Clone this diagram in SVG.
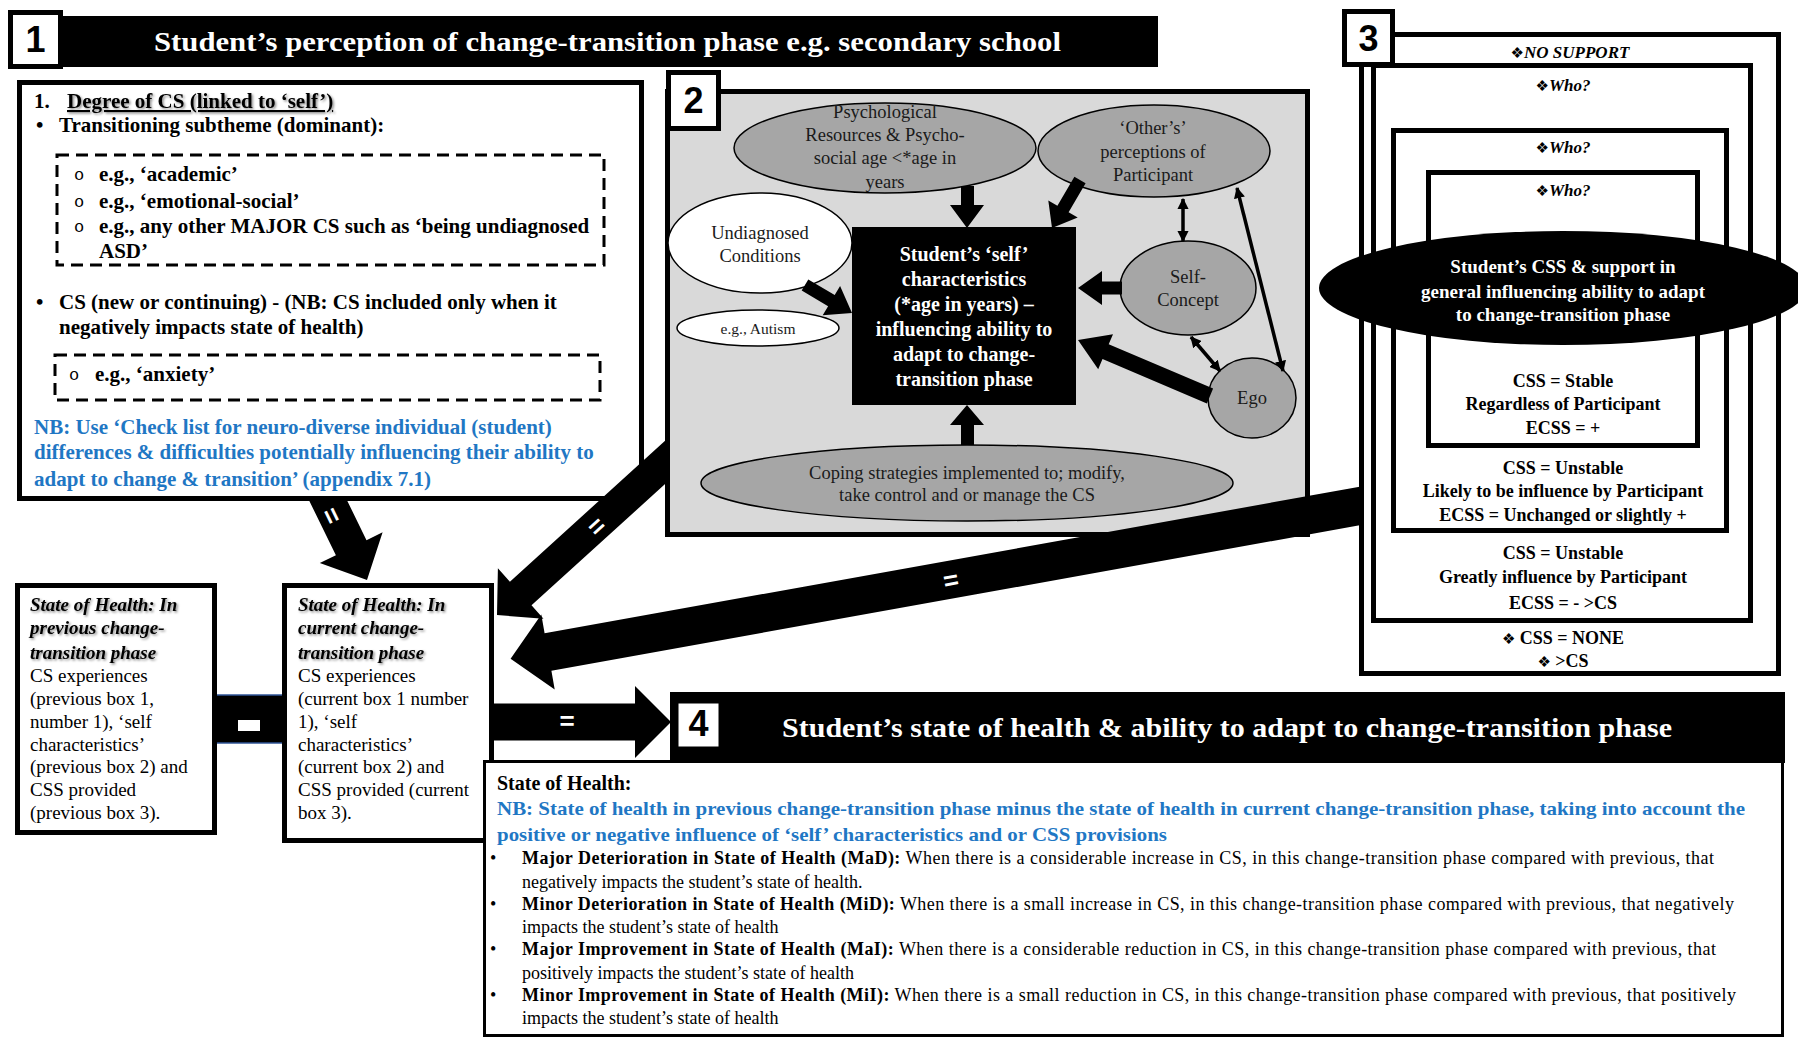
<svg xmlns="http://www.w3.org/2000/svg" width="1798" height="1038" viewBox="0 0 1798 1038">
<style>
.sf{font-family:"Liberation Serif","Times New Roman",serif}
.b{font-weight:bold}
.i{font-style:italic}
.w{fill:#fff}
.k{fill:#000}
.blue{fill:#1f77c4}
.box{fill:#fff;stroke:#000;stroke-width:5}
.frame{fill:none;stroke:#000;stroke-width:5}
.dash{fill:none;stroke:#000;stroke-width:3;stroke-dasharray:12 7}
.ell{stroke:#000;stroke-width:1.5}
.gray{fill:#a6a6a6}
.c{text-anchor:middle}
.lbl{font-family:"Liberation Sans",Arial,sans-serif;font-weight:bold;font-size:36px;text-anchor:middle;fill:#000}
.arr{fill:#000}
.eq{font-family:"Liberation Sans",Arial,sans-serif;font-weight:bold;font-size:26px;fill:#fff;text-anchor:middle}
.t1{font-size:21px}
.t2{font-size:18.5px;fill:#1a1a1a}
.t3{font-size:18px}
.t4{font-size:19px}
.thin{stroke:#000;stroke-width:3.5;fill:none}
.dia{font-family:"DejaVu Sans",sans-serif;font-style:normal;font-weight:normal;font-size:15px}
</style>
<defs>
<filter id="sh" x="-10%" y="-40%" width="130%" height="200%">
<feDropShadow dx="1.5" dy="1.5" stdDeviation="1.2" flood-color="#000" flood-opacity="0.45"/>
</filter>
<marker id="ah" viewBox="0 0 10 10" refX="9" refY="5" markerWidth="3.2" markerHeight="3.2" orient="auto-start-reverse">
<path d="M0,0 L10,5 L0,10 z" fill="#000"/>
</marker>
</defs>
<rect width="1798" height="1038" fill="#fff"/>

<!-- Box 1 -->
<g id="node-box1">
<rect x="10" y="16" width="1148" height="51" fill="#000"/>
<text class="sf b w" x="154" y="51" font-size="28" textLength="907" lengthAdjust="spacingAndGlyphs">Student’s perception of  change-transition phase e.g. secondary school</text>
<rect class="box" x="10.5" y="12.5" width="50" height="54"/>
<text class="lbl" x="35.5" y="52">1</text>
<rect class="box" x="19.5" y="82.5" width="622" height="416"/>
<text class="sf b t1" x="34" y="108">1.</text>
<text class="sf b t1" x="67" y="108" text-decoration="underline" filter="url(#sh)">Degree of CS (linked  to ‘self’)</text>
<text class="sf b t1" x="36" y="132">•</text>
<text class="sf b t1" x="59" y="132">Transitioning subtheme (dominant):</text>
<rect class="dash" x="57" y="155" width="547" height="110"/>
<text font-family="Liberation Mono,monospace" font-size="17" x="74" y="180">o</text>
<text font-family="Liberation Mono,monospace" font-size="17" x="74" y="207">o</text>
<text font-family="Liberation Mono,monospace" font-size="17" x="74" y="232">o</text>
<text class="sf b t1" x="99" y="181">e.g., ‘academic’</text>
<text class="sf b t1" x="99" y="208">e.g., ‘emotional-social’</text>
<text class="sf b t1" x="99" y="233">e.g., any other MAJOR CS such as  ‘being undiagnosed</text>
<text class="sf b t1" x="99" y="258">ASD’</text>
<text class="sf b t1" x="36" y="309">•</text>
<text class="sf b t1" x="59" y="309">CS (new or continuing) - (NB: CS included only when it</text>
<text class="sf b t1" x="59" y="334">negatively impacts state of health)</text>
<rect class="dash" x="55" y="355" width="545" height="45"/>
<text font-family="Liberation Mono,monospace" font-size="17" x="69" y="380">o</text>
<text class="sf b t1" x="95" y="381">e.g., ‘anxiety’</text>
<text class="sf b t1 blue" x="34" y="434">NB: Use ‘Check list  for neuro-diverse individual  (student)</text>
<text class="sf b t1 blue" x="34" y="459">differences &amp; difficulties potentially influencing their ability  to</text>
<text class="sf b t1 blue" x="34" y="486">adapt to change &amp; transition’ (appendix 7.1)</text>
</g>

<!-- Box 2 -->
<g id="node-box2">
<rect x="667.5" y="91.5" width="640" height="443" fill="#d9d9d9" stroke="#000" stroke-width="5"/>
<rect class="box" x="668.5" y="72.5" width="50" height="56"/>
<text class="lbl" x="693.5" y="113">2</text>
</g>
<g id="node-psych">
<ellipse class="gray ell" cx="885" cy="148" rx="151" ry="45"/>
<text class="sf t2 c" x="885" y="118">Psychological</text>
<text class="sf t2 c" x="885" y="141">Resources &amp; Psycho-</text>
<text class="sf t2 c" x="885" y="164">social age &lt;*age in</text>
<text class="sf t2 c" x="885" y="188">years</text>
</g>
<g id="node-others">
<ellipse class="gray ell" cx="1154" cy="151" rx="116" ry="46"/>
<text class="sf t2 c" x="1153" y="134">‘Other’s’</text>
<text class="sf t2 c" x="1153" y="158">perceptions of</text>
<text class="sf t2 c" x="1153" y="181">Participant</text>
</g>
<g id="node-undiagnosed">
<ellipse class="ell" fill="#fff" cx="760" cy="243" rx="92" ry="50"/>
<text class="sf t2 c" x="760" y="239">Undiagnosed</text>
<text class="sf t2 c" x="760" y="262">Conditions</text>
</g>
<g id="node-autism">
<ellipse class="ell" fill="#fff" cx="758" cy="328" rx="81" ry="18"/>
<text class="sf c" font-size="15.5" fill="#1a1a1a" x="758" y="334">e.g., Autism</text>
</g>
<g id="node-self">
<rect x="852" y="227" width="224" height="178" fill="#000"/>
<text class="sf b w c" font-size="20" x="964" y="261">Student’s ‘self’</text>
<text class="sf b w c" font-size="20" x="964" y="286">characteristics</text>
<text class="sf b w c" font-size="20" x="964" y="311">(*age in years) –</text>
<text class="sf b w c" font-size="20" x="964" y="336">influencing ability  to</text>
<text class="sf b w c" font-size="20" x="964" y="361">adapt to change-</text>
<text class="sf b w c" font-size="20" x="964" y="386">transition phase</text>
</g>
<g id="node-selfconcept">
<ellipse class="gray ell" cx="1188" cy="288" rx="68" ry="47"/>
<text class="sf t2 c" x="1188" y="283">Self-</text>
<text class="sf t2 c" x="1188" y="306">Concept</text>
</g>
<g id="node-ego">
<ellipse class="gray ell" cx="1252" cy="398" rx="44" ry="40"/>
<text class="sf t2 c" x="1252" y="404">Ego</text>
</g>
<g id="node-coping">
<ellipse class="gray ell" cx="967" cy="483" rx="266" ry="38"/>
<text class="sf t2 c" x="967" y="479">Coping strategies implemented to; modify,</text>
<text class="sf t2 c" x="967" y="501">take control and or manage the CS</text>
</g>

<!-- Box 3 -->
<g id="node-box3">
<rect class="box" x="1361.5" y="34.5" width="417" height="639"/>
<rect class="frame" x="1373.5" y="65.5" width="377" height="555"/>
<rect class="frame" x="1393.5" y="130.5" width="333" height="400"/>
<rect class="frame" x="1428.5" y="172.5" width="269" height="273"/>
<rect class="box" x="1344.5" y="11.5" width="48" height="53"/>
<text class="lbl" x="1368.5" y="51">3</text>
<text class="sf b i c" font-size="17" x="1570" y="58"><tspan class="dia">❖</tspan>NO SUPPORT</text>
<text class="sf b i c" font-size="17" x="1563" y="91"><tspan class="dia">❖</tspan>Who?</text>
<text class="sf b i c" font-size="17" x="1563" y="153"><tspan class="dia">❖</tspan>Who?</text>
<text class="sf b i c" font-size="17" x="1563" y="196"><tspan class="dia">❖</tspan>Who?</text>
<ellipse cx="1563" cy="288" rx="244" ry="57" fill="#000"/>
<text class="sf b w c" font-size="19" x="1563" y="273">Student’s CSS &amp; support in</text>
<text class="sf b w c" font-size="19" x="1563" y="298">general influencing ability  to adapt</text>
<text class="sf b w c" font-size="19" x="1563" y="321">to change-transition phase</text>
<text class="sf b c" font-size="18" x="1563" y="387">CSS = Stable</text>
<text class="sf b c" font-size="18" x="1563" y="410">Regardless of Participant</text>
<text class="sf b c" font-size="18" x="1563" y="434">ECSS = +</text>
<text class="sf b c" font-size="18" x="1563" y="474">CSS = Unstable</text>
<text class="sf b c" font-size="18" x="1563" y="497">Likely to be influence by Participant</text>
<text class="sf b c" font-size="18" x="1563" y="521">ECSS = Unchanged or slightly +</text>
<text class="sf b c" font-size="18" x="1563" y="559">CSS = Unstable</text>
<text class="sf b c" font-size="18" x="1563" y="583">Greatly influence by Participant</text>
<text class="sf b c" font-size="18" x="1563" y="609">ECSS = - &gt;CS</text>
<text class="sf b c" font-size="18" x="1563" y="644"><tspan class="dia">❖</tspan>  CSS = NONE</text>
<text class="sf b c" font-size="18" x="1563" y="667"><tspan class="dia">❖</tspan>  &gt;CS</text>
</g>

<!-- Previous / current state boxes -->
<g id="node-previous">
<rect class="box" x="17.5" y="585.5" width="197" height="247"/>
<g class="sf b i t4" filter="url(#sh)">
<text x="30" y="611">State of Health: In</text>
<text x="30" y="634">previous change-</text>
<text x="30" y="659">transition phase</text>
</g>
<g class="sf t4">
<text x="30" y="682">CS experiences</text>
<text x="30" y="705">(previous box 1,</text>
<text x="30" y="728">number 1), ‘self</text>
<text x="30" y="751">characteristics’</text>
<text x="30" y="773">(previous box 2) and</text>
<text x="30" y="796">CSS provided</text>
<text x="30" y="819">(previous box 3).</text>
</g>
</g>
<g id="node-current">
<rect class="box" x="284.5" y="585.5" width="207" height="255"/>
<g class="sf b i t4" filter="url(#sh)">
<text x="298" y="611">State of Health: In</text>
<text x="298" y="634">current change-</text>
<text x="298" y="659">transition phase</text>
</g>
<g class="sf t4">
<text x="298" y="682">CS experiences</text>
<text x="298" y="705">(current box 1 number</text>
<text x="298" y="728">1), ‘self</text>
<text x="298" y="751">characteristics’</text>
<text x="298" y="773">(current box 2) and</text>
<text x="298" y="796">CSS provided (current</text>
<text x="298" y="819">box 3).</text>
</g>
</g>

<!-- Box 4 -->
<g id="node-box4">
<rect x="484.5" y="761.5" width="1298" height="274" fill="#fff" stroke="#000" stroke-width="3"/>
<rect x="670" y="692" width="1115" height="71" fill="#000"/>
<rect x="677" y="702" width="43" height="46" fill="#fff" stroke="#000" stroke-width="3"/>
<text class="lbl" font-size="32" x="698.5" y="736">4</text>
<text class="sf b w" font-size="27" x="782" y="737" textLength="890" lengthAdjust="spacingAndGlyphs">Student’s state of health &amp; ability to adapt to change-transition phase</text>
<text class="sf b" font-size="20" x="497" y="790">State of Health:</text>
<text class="sf b blue" font-size="19.5" x="497" y="815" textLength="1248" lengthAdjust="spacingAndGlyphs">NB: State of health in previous change-transition phase minus the state of health in  current change-transition phase, taking into account the</text>
<text class="sf b blue" font-size="19.5" x="497" y="841" textLength="670" lengthAdjust="spacingAndGlyphs">positive or negative influence of ‘self’ characteristics and or CSS provisions</text>
<g class="sf t3">
<text x="490" y="864">•</text>
<text x="522" y="864" textLength="1192"><tspan font-weight="bold">Major Deterioration in State of Health (MaD):</tspan> When there is a considerable increase in CS, in this change-transition phase compared with previous, that</text>
<text x="522" y="888">negatively impacts the student’s state of health.</text>
<text x="490" y="910">•</text>
<text x="522" y="910" textLength="1212"><tspan font-weight="bold">Minor Deterioration in State of Health (MiD):</tspan> When there is a small increase in CS, in this change-transition phase compared with previous, that negatively</text>
<text x="522" y="933">impacts the student’s state of health</text>
<text x="490" y="955">•</text>
<text x="522" y="955" textLength="1194"><tspan font-weight="bold">Major Improvement in State of Health (MaI):</tspan> When there is a considerable reduction in CS, in this change-transition phase compared with previous, that</text>
<text x="522" y="979">positively impacts the student’s state of health</text>
<text x="490" y="1001">•</text>
<text x="522" y="1001" textLength="1214"><tspan font-weight="bold">Minor Improvement in State of Health (MiI):</tspan>  When there is a small reduction in CS, in this change-transition phase compared with previous, that positively</text>
<text x="522" y="1024">impacts the student’s state of health</text>
</g>
</g>

<!-- Connectors -->
<g id="connectors">
<polygon class="arr" points="345.4,497 366.5,540.2 382.6,532.3 367,580 319.8,563.1 335.9,555.2 307.4,497"/>
<text class="eq" transform="translate(331,516) rotate(63.9)" x="0" y="8">=</text>
<polygon class="arr" points="667,482.3 531.5,605.3 543.5,618.7 497,615 497.9,568.3 509.9,581.7 667,439.1"/>
<text class="eq" transform="translate(597,527) rotate(-42.2)" x="0" y="8">=</text>
<polygon class="arr" points="1361,486.5 544.6,633.3 541.3,614.6 510.6,658.7 554.7,689.4 551.4,670.7 1361,525.1"/>
<text class="eq" transform="translate(951,581) rotate(-10.2)" x="0" y="8">=</text>
<polygon class="arr" points="492,703.5 635,703.5 635,686 671,722 635,758 635,740.5 492,740.5"/>
<text class="eq" x="567" y="730">=</text>
<rect x="217" y="695" width="65" height="48" fill="#000"/>
<line x1="217" y1="695" x2="282" y2="695" stroke="#2f5597" stroke-width="1.5"/>
<line x1="217" y1="743" x2="282" y2="743" stroke="#2f5597" stroke-width="1.5"/>
<rect x="238" y="720" width="22" height="11" fill="#fff"/>
<polygon class="arr" points="961,186 974,186 974,205 984,205 967,228 950,205 961,205"/>
<polygon class="arr" points="961,445 974,445 974,425 984,425 967,405 950,425 961,425"/>
<polygon class="arr" points="1085.6,183.3 1068.6,212.3 1077.7,217.6 1052,228 1048.3,200.4 1057.4,205.7 1074.4,176.7"/>
<polygon class="arr" points="801.7,290.6 828.1,306.3 822.7,315.3 852,313 840.1,286.1 834.7,295.1 808.3,279.4"/>
<polygon class="arr" points="1122,281.5 1102,281.5 1102,271 1078,288 1102,305 1102,294.5 1122,294.5"/>
<polygon class="arr" points="1213.1,388.6 1108.7,344.3 1113,334.2 1078,340 1098.2,369.2 1102.5,359.1 1206.9,403.4"/>
<line class="thin" x1="1183" y1="199" x2="1183" y2="241" marker-start="url(#ah)" marker-end="url(#ah)"/>
<line class="thin" x1="1191" y1="337" x2="1220" y2="371" marker-start="url(#ah)" marker-end="url(#ah)"/>
<line class="thin" x1="1237" y1="188" x2="1283" y2="371" marker-start="url(#ah)" marker-end="url(#ah)"/>
</g>
</svg>
